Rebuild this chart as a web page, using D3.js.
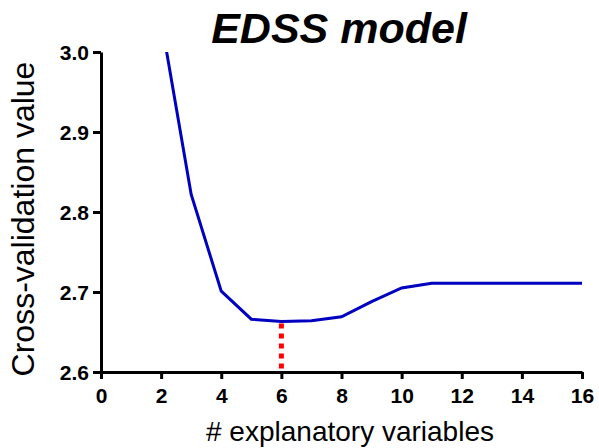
<!DOCTYPE html>
<html>
<head>
<meta charset="utf-8">
<script src="https://cdn.jsdelivr.net/npm/d3@7"></script>
<style>
  body { margin: 0; background: #fff; }
  svg { font-family: "Liberation Sans", Arial, sans-serif; }
</style>
</head>
<body>
<svg id="chart" width="599" height="448"></svg>
<script>
// number of explanatory variables and cross-validation value
const nVars = [2, 3, 4, 5, 6, 7, 8, 9, 10, 11, 12, 13, 14, 15, 16];
const cvValues = [3.04, 2.822, 2.701, 2.666, 2.663, 2.664, 2.669, 2.688, 2.705, 2.711, 2.711, 2.711, 2.711, 2.711, 2.711];
const xTicks = [0, 2, 4, 6, 8, 10, 12, 14, 16];
const yTicks = [2.6, 2.7, 2.8, 2.9, 3.0];
const bestN = 6;

const svg = d3.select("#chart");
const margin = { top: 52, right: 17, bottom: 76, left: 101 };
const width = 599 - margin.left - margin.right;
const height = 448 - margin.top - margin.bottom;

const x = d3.scaleLinear().domain([0, 16]).range([0, width]);
const y = d3.scaleLinear().domain([2.6, 3.0]).range([height, 0]);

const g = svg.append("g")
    .attr("transform", `translate(${margin.left}, ${margin.top})`);

// clip the curve to the plot area (first point is above 3.0)
svg.append("defs").append("clipPath").attr("id", "plot")
    .append("rect").attr("x", 0).attr("y", 0).attr("width", width + 5).attr("height", height);

const data = nVars.map((n, i) => ({ n, v: cvValues[i] }));
const best = data.find(d => d.n === bestN);

// red dotted line at the minimum
g.append("line")
    .attr("x1", x(bestN)).attr("x2", x(bestN))
    .attr("y1", y(best.v) + 2).attr("y2", height)
    .attr("stroke", "#ff0000")
    .attr("stroke-width", 5)
    .attr("stroke-dasharray", "5,5");

g.append("path")
    .datum(data)
    .attr("clip-path", "url(#plot)")
    .attr("fill", "none")
    .attr("stroke", "#0000c0")
    .attr("stroke-width", 3)
    .attr("d", d3.line().x(d => x(d.n)).y(d => y(d.v)));

// axes
const xAxis = g.append("g")
    .attr("transform", `translate(0, ${height})`)
    .call(d3.axisBottom(x).tickValues(xTicks).tickFormat(d3.format("d")).tickSize(7).tickSizeOuter(0));
const yAxis = g.append("g")
    .call(d3.axisLeft(y).tickValues(yTicks).tickFormat(d3.format(".1f")).tickSize(8).tickSizeOuter(0));

[xAxis, yAxis].forEach(a => {
    a.select(".domain").attr("stroke", "#000").attr("stroke-width", 3);
    a.selectAll(".tick line").attr("stroke", "#000").attr("stroke-width", 3);
    a.selectAll(".tick text")
        .attr("fill", "#000")
        .style("font-size", "21px")
        .style("font-weight", "bold")
        .style("font-family", "Liberation Sans, Arial, sans-serif");
});
xAxis.selectAll(".tick text").attr("y", 31).attr("dy", null);
yAxis.selectAll(".tick text").attr("x", -12).attr("dy", "0.37em");

// title and axis labels
svg.append("text")
    .attr("x", 339).attr("y", 43)
    .attr("text-anchor", "middle")
    .style("font-size", "43px")
    .style("font-weight", "bold")
    .style("font-style", "italic")
    .text("EDSS model");

svg.append("text")
    .attr("x", 350).attr("y", 441)
    .attr("text-anchor", "middle")
    .style("font-size", "28px")
    .text("# explanatory variables");

svg.append("text")
    .attr("transform", "translate(34, 219) rotate(-90)")
    .attr("text-anchor", "middle")
    .style("font-size", "32px")
    .text("Cross-validation value");
</script>
</body>
</html>
